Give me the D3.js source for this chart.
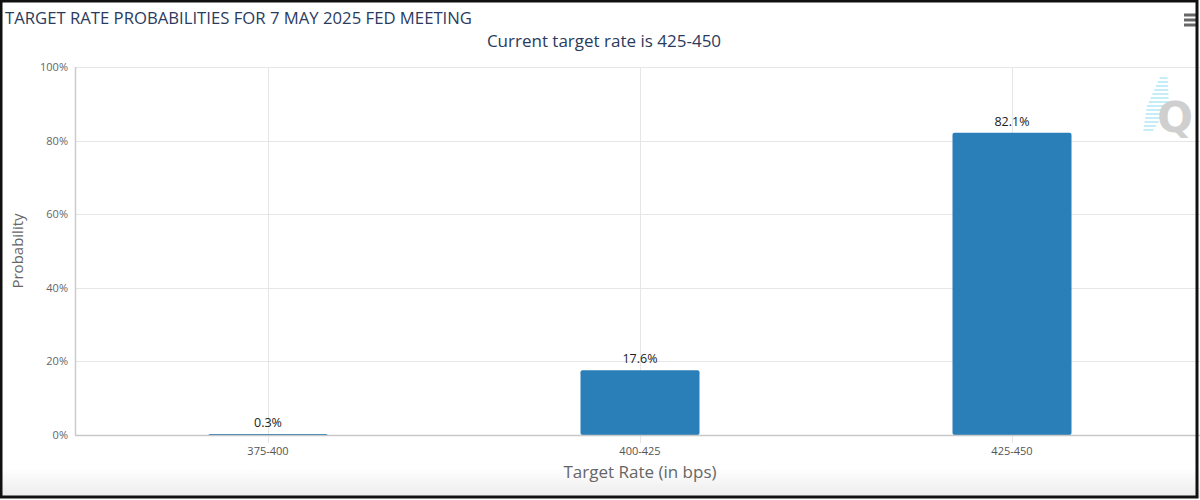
<!DOCTYPE html>
<html>
<head>
<meta charset="utf-8">
<script src="https://cdn.jsdelivr.net/npm/d3@7"></script>
<style>
  html, body { margin: 0; padding: 0; background: #fff; }
  svg { display: block; }
</style>
</head>
<body>
<svg id="chart" width="1200" height="500"></svg>
<script>
const categories = ["375-400", "400-425", "425-450"];
const probabilities = [0.3, 17.6, 82.1];
const yTicks = [0, 20, 40, 60, 80, 100];

const titleText = "TARGET RATE PROBABILITIES FOR 7 MAY 2025 FED MEETING";
const subtitleText = "Current target rate is 425-450";
const xTitle = "Target Rate (in bps)";
const yTitle = "Probability";

const svg = d3.select("#chart");
const W = 1200, H = 500;
const font = "'Open Sans', 'Noto Sans', sans-serif";
const narrow = "'Liberation Sans Narrow', 'Open Sans', sans-serif";

// bottom fade
const defs = svg.append("defs");
const grad = defs.append("linearGradient").attr("id", "fade").attr("x1", 0).attr("y1", 0).attr("x2", 0).attr("y2", 1);
grad.append("stop").attr("offset", "0%").attr("stop-color", "#ffffff");
grad.append("stop").attr("offset", "100%").attr("stop-color", "#ebebeb");
svg.append("rect").attr("x", 0).attr("y", 0).attr("width", W).attr("height", H).attr("fill", "#fff");
svg.append("rect").attr("x", 0).attr("y", 468).attr("width", W).attr("height", 30).attr("fill", "url(#fade)");

const plotLeft = 75, plotTop = 67, plotBottom = 435;
const x = d3.scaleBand().domain(categories).range([82, 1198]).paddingInner(0).paddingOuter(0);
const y = d3.scaleLinear().domain([0, 100]).range([plotBottom, plotTop]);

// horizontal gridlines
svg.append("g").selectAll("line").data(yTicks).join("line")
  .attr("x1", plotLeft).attr("x2", W)
  .attr("y1", d => Math.round(y(d)) + 0.5).attr("y2", d => Math.round(y(d)) + 0.5)
  .attr("stroke", "#e6e6e6").attr("stroke-width", 1);

// vertical gridlines at category centers
svg.append("g").selectAll("line").data(categories).join("line")
  .attr("x1", d => Math.round(x(d) + x.bandwidth() / 2) + 0.5)
  .attr("x2", d => Math.round(x(d) + x.bandwidth() / 2) + 0.5)
  .attr("y1", plotTop).attr("y2", plotBottom + 8)
  .attr("stroke", "#e6e6e6").attr("stroke-width", 1);

// y axis line
svg.append("line").attr("x1", plotLeft + 0.5).attr("x2", plotLeft + 0.5)
  .attr("y1", plotTop).attr("y2", plotBottom)
  .attr("stroke", "#cccccc").attr("stroke-width", 1.5);

// bars
const barW = 119;
svg.append("g").selectAll("rect").data(probabilities).join("rect")
  .attr("x", (d, i) => x(categories[i]) + x.bandwidth() / 2 - barW / 2)
  .attr("y", d => y(d))
  .attr("width", barW)
  .attr("height", d => Math.max(1.5, plotBottom - y(d)))
  .attr("rx", 2)
  .attr("fill", "#2a7fb8");

// x axis line
svg.append("line").attr("x1", plotLeft).attr("x2", W)
  .attr("y1", plotBottom + 0.5).attr("y2", plotBottom + 0.5)
  .attr("stroke", "#c8c8c8").attr("stroke-width", 1.5);

// data labels
svg.append("g").selectAll("text").data(probabilities).join("text")
  .attr("x", (d, i) => x(categories[i]) + x.bandwidth() / 2)
  .attr("y", d => y(d) - 7)
  .attr("text-anchor", "middle")
  .attr("font-family", font).attr("font-size", 12.5)
  .attr("fill", "#222")
  .text(d => d.toFixed(1) + "%");

// y tick labels
svg.append("g").selectAll("text").data(yTicks).join("text")
  .attr("x", 68).attr("y", d => y(d) + 4)
  .attr("text-anchor", "end")
  .attr("font-family", font).attr("font-size", 11)
  .attr("fill", "#666")
  .text(d => d + "%");

// x tick labels
svg.append("g").selectAll("text").data(categories).join("text")
  .attr("x", d => x(d) + x.bandwidth() / 2).attr("y", 455)
  .attr("text-anchor", "middle")
  .attr("font-family", narrow).attr("font-size", 11)
  .attr("fill", "#555")
  .text(d => d);

// axis titles
svg.append("text").attr("x", 640).attr("y", 478)
  .attr("text-anchor", "middle").attr("font-family", font).attr("font-size", 17)
  .attr("fill", "#666").text(xTitle);
svg.append("text")
  .attr("transform", "translate(23,251) rotate(-90)")
  .attr("text-anchor", "middle").attr("font-family", font).attr("font-size", 15)
  .attr("fill", "#666").text(yTitle);

// title & subtitle
svg.append("text").attr("x", 5).attr("y", 24)
  .attr("font-family", font).attr("font-size", 16.7)
  .attr("fill", "#2b3b5e").text(titleText);
svg.append("text").attr("x", 604).attr("y", 47)
  .attr("text-anchor", "middle").attr("font-family", font).attr("font-size", 17)
  .attr("fill", "#2b3b5e").text(subtitleText);

// hamburger menu
const menu = svg.append("g");
[15, 20, 25].forEach(yy => menu.append("rect").attr("x", 1184).attr("y", yy - 1.5).attr("width", 14).attr("height", 3).attr("fill", "#666"));

// watermark
const wm = svg.append("g").attr("opacity", 0.6);
for (let i = 0; i < 14; i++) {
  const yy = 78 + i * 4;
  const len = 8 + (i < 8 ? i * 2 : (14 - i) * 2);
  wm.append("line").attr("x1", 1162 - len * 0.3 - i * 1.2).attr("x2", 1162 - len * 0.3 - i * 1.2 + len)
    .attr("y1", yy).attr("y2", yy).attr("stroke", "#7fd8f0").attr("stroke-width", 1.5);
}
wm.append("text").attr("x", 1175).attr("y", 132).attr("text-anchor", "middle")
  .attr("font-family", "'DejaVu Sans', sans-serif").attr("font-weight", "bold").attr("font-size", 42)
  .attr("fill", "#b0b0b0").text("Q");

// frame
svg.append("rect").attr("x", 1).attr("y", 1).attr("width", 1196).attr("height", 496)
  .attr("fill", "none").attr("stroke", "#111").attr("stroke-width", 3);
</script>
</body>
</html>
